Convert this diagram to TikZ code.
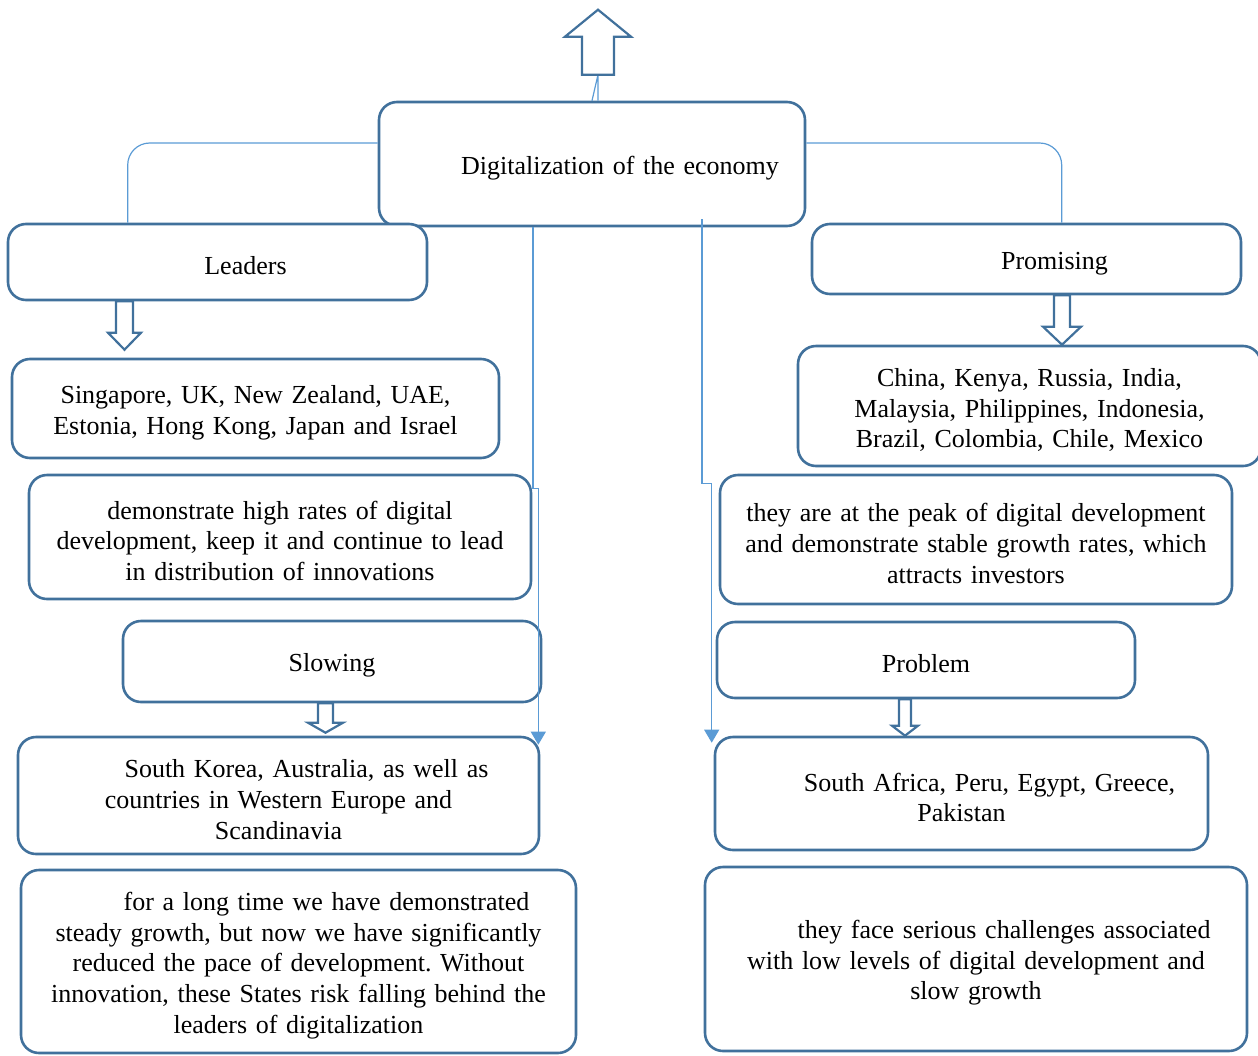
\documentclass[tikz,border=0pt]{standalone}
\usepackage{fontspec}
\setmainfont{Liberation Serif}
\usetikzlibrary{arrows.meta, calc}
\frenchspacing

\definecolor{boxblue}{RGB}{65,113,156}
\definecolor{linkblue}{RGB}{91,155,213}

\tikzset{
  box/.style={draw=boxblue, line width=2.6pt, rounded corners=18pt, fill=white,
    align=center, inner xsep=4pt, inner ysep=2pt,
    font=\fontsize{26}{30.7}\selectfont,
    execute at begin node={\rule{0pt}{26pt}}},
  link/.style={draw=linkblue, line width=1.2pt},
  fatarrow/.style n args={3}{draw=boxblue, line width=2.2pt, fill=white,
    to path={($(\tikztostart)+(-#1,0pt)$) -- ($(\tikztotarget)!#3!(\tikztostart)+(-#1,0pt)$)
      -- ($(\tikztotarget)!#3!(\tikztostart)+(-#2,0pt)$) -- (\tikztotarget)
      -- ($(\tikztotarget)!#3!(\tikztostart)+(#2,0pt)$) -- ($(\tikztotarget)!#3!(\tikztostart)+(#1,0pt)$)
      -- ($(\tikztostart)+(#1,0pt)$) -- cycle}}
}

\begin{document}
\begin{tikzpicture}[x=1pt, y=-1pt, >=Triangle]
    \useasboundingbox (0,0) rectangle (1258,1055);

    % boxes
    \node [box, minimum width=426pt, minimum height=124pt, text width=416pt] (main) at (592,164) {\hspace*{56pt}Digitalization of the economy};
    \node [box, minimum width=419pt, minimum height=76pt, text width=409pt] (leaders) at (217.5,262) {\hspace*{56pt}Leaders};
    \node [box, minimum width=429pt, minimum height=70pt, text width=419pt] (promising) at (1026.5,259) {\hspace*{56pt}Promising};
    \node [box, minimum width=487pt, minimum height=99pt, text width=477pt] (sing) at (255.5,408.5) {Singapore, UK, New Zealand, UAE,\\ Estonia, Hong Kong, Japan and Israel};
    \node [box, minimum width=502pt, minimum height=124pt, text width=492pt] (demo) at (280,537) {demonstrate high rates of digital\\ development, keep it and continue to lead\\ in distribution of innovations};
    \node [box, minimum width=418pt, minimum height=81pt, text width=408pt] (slowing) at (332,661.5) {Slowing};
    \node [box, minimum width=521pt, minimum height=117pt, text width=511pt] (korea) at (278.5,795.5) {\hspace*{56pt}South Korea, Australia, as well as\\ countries in Western Europe and\\ Scandinavia};
    \node [box, minimum width=555pt, minimum height=183pt, text width=545pt] (longtime) at (298.5,961.5) {\hspace*{56pt}for a long time we have demonstrated\\ steady growth, but now we have significantly\\ reduced the pace of development. Without\\ innovation, these States risk falling behind the\\ leaders of digitalization};
    \node [box, minimum width=463pt, minimum height=120pt, text width=453pt] (china) at (1029.5,406) {China, Kenya, Russia, India,\\ Malaysia, Philippines, Indonesia,\\ Brazil, Colombia, Chile, Mexico};
    \node [box, minimum width=512pt, minimum height=129pt, text width=502pt] (peak) at (976,539.5) {they are at the peak of digital development\\ and demonstrate stable growth rates, which\\ attracts investors};
    \node [box, minimum width=418pt, minimum height=76pt, text width=408pt] (problem) at (926,660) {Problem};
    \node [box, minimum width=493pt, minimum height=113pt, text width=483pt] (safrica) at (961.5,793.5) {\hspace*{56pt}South Africa, Peru, Egypt, Greece,\\ Pakistan};
    \node [box, minimum width=542pt, minimum height=184pt, text width=532pt] (face) at (976,959) {\hspace*{56pt}they face serious challenges associated\\ with low levels of digital development and\\ slow growth};

    % points for the block arrows
    \coordinate (top-tail) at ([xshift=6pt,yshift=26pt]main.north);
    \coordinate (top-tip) at ([yshift=65pt]top-tail);
    \coordinate (lead-tail) at ([xshift=-93pt]leaders.south);
    \coordinate (lead-tip) at ($(lead-tail |- sing.north)+(0pt,8pt)$);
    \coordinate (prom-tail) at ([xshift=35.5pt]promising.south);
    \coordinate (prom-tip) at (prom-tail |- china.north);
    \coordinate (slow-tail) at ([xshift=-6.5pt]slowing.south);
    \coordinate (slow-tip) at ($(slow-tail |- korea.north)+(0pt,3pt)$);
    \coordinate (prob-tail) at ([xshift=-21pt]problem.south);
    \coordinate (prob-tip) at (prob-tail |- safrica.north);

    % connectors
    \draw [link] (main.north) -- (top-tail) -- ([xshift=6pt]main.north);
    \draw [fatarrow={16pt}{33pt}{27pt}] (top-tail) to (top-tip);
    \draw [link, rounded corners=22pt] ([yshift=21pt]main.west) -| ([xshift=121pt]leaders.north west);
    \draw [link, rounded corners=22pt] ([yshift=21pt]main.east) -| ([xshift=251pt]promising.north west);
    \draw [fatarrow={8.5pt}{16.5pt}{17pt}] (lead-tail) to (lead-tip);
    \draw [fatarrow={8pt}{19pt}{18pt}] (prom-tail) to (prom-tip);
    \draw [fatarrow={7.5pt}{17.5pt}{10pt}] (slow-tail) to (slow-tip);
    \draw [fatarrow={6pt}{13pt}{10pt}] (prob-tail) to (prob-tip);
    \draw [link, -{Triangle[width=15pt, length=13pt]}, linkblue] ([xshift=-59pt]main.south) -- ++(0,261) -| ([xshift=-2pt,yshift=-9pt]korea.north east);
    \draw [link, -{Triangle[width=15pt, length=13pt]}, linkblue] ([xshift=110pt,yshift=8pt]main.south) -- ++(0,264) -| ([xshift=-2pt,yshift=-7pt]safrica.north west);
\end{tikzpicture}
\end{document}
